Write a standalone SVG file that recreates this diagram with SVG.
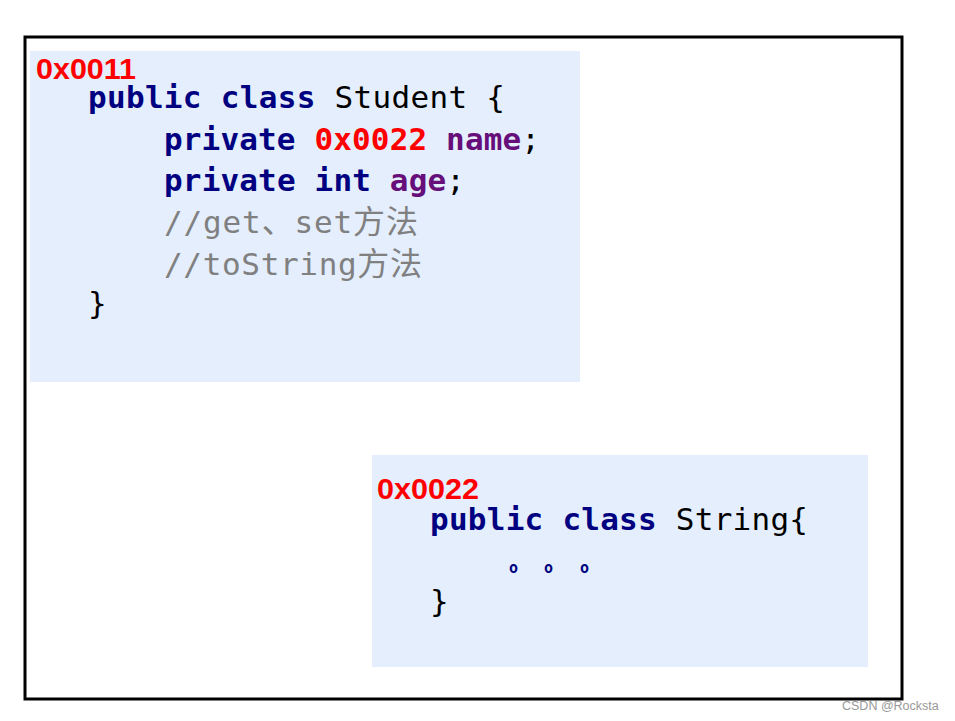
<svg xmlns="http://www.w3.org/2000/svg" width="955" height="721" viewBox="0 0 955 721">
<style>
.box{fill:#e4eefc}
.code{font-family:"DejaVu Sans Mono","Liberation Mono","Noto Sans CJK SC",monospace;font-size:31px}
.addr{font-family:"Liberation Sans",Arial,sans-serif;font-weight:bold;font-size:29px;fill:#ff0000}
.kw{fill:#000080;font-weight:bold}
.pl{fill:#000000}
.fld{fill:#660e7a;font-weight:bold}
.red{fill:#ff0000;font-weight:bold}
.cm{fill:#808080}
.cjk{font-family:"Noto Sans CJK SC",sans-serif;font-size:32px}
.dots{font-family:"DejaVu Sans Mono",monospace;font-size:15px;font-weight:bold;fill:#000080}
</style>
<rect x="0" y="0" width="955" height="721" fill="#ffffff"/>
<rect x="25" y="37" width="877" height="662" fill="none" stroke="#000" stroke-width="3"/>
<g id="student">
<rect class="box" x="30" y="51" width="550" height="331"/>
<text class="addr" x="36" y="79" textLength="100" lengthAdjust="spacingAndGlyphs">0x0011</text>
<text class="code" x="88" y="108" textLength="417"><tspan class="kw">public class</tspan><tspan class="pl"> Student {</tspan></text>
<text class="code" x="164" y="150" textLength="376"><tspan class="kw">private </tspan><tspan class="red">0x0022 </tspan><tspan class="fld">name</tspan><tspan class="pl">;</tspan></text>
<text class="code" x="164" y="191" textLength="301"><tspan class="kw">private int </tspan><tspan class="fld">age</tspan><tspan class="pl">;</tspan></text>
<text class="code cm" x="164" y="233" textLength="254">//get<tspan class="cjk">、</tspan>set<tspan class="cjk">方法</tspan></text>
<text class="code cm" x="164" y="275" textLength="258">//toString<tspan class="cjk">方法</tspan></text>
<text class="code pl" x="88" y="314">}</text>
</g>
<g id="string">
<rect class="box" x="372" y="455" width="496" height="212"/>
<text class="addr" x="377" y="499" textLength="102" lengthAdjust="spacingAndGlyphs">0x0022</text>
<text class="code" x="430" y="530" textLength="378"><tspan class="kw">public class</tspan><tspan class="pl"> String{</tspan></text>
<text class="dots" y="573"><tspan x="509">o</tspan><tspan x="544">o</tspan><tspan x="580">o</tspan></text>
<text class="code pl" x="430" y="612">}</text>
</g>
<g id="connectors"></g>
<text x="842" y="710" font-family="Liberation Sans,Arial,sans-serif" font-size="12.5" fill="#999999">CSDN @Rocksta</text>
</svg>
